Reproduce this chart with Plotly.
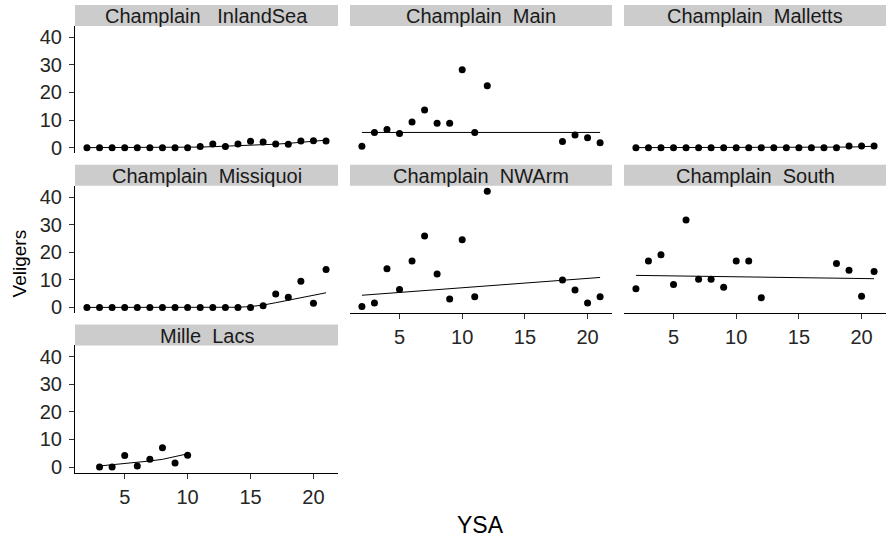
import plotly.graph_objects as go

W, H = 886, 548

# ---------------- data ----------------
panel_names = ["Champlain\u00a0\u00a0\u00a0InlandSea", "Champlain\u00a0\u00a0Main", "Champlain\u00a0\u00a0Malletts",
               "Champlain\u00a0\u00a0Missiquoi", "Champlain\u00a0\u00a0NWArm", "Champlain\u00a0\u00a0South",
               "Mille\u00a0\u00a0Lacs"]

ysa_all = [2, 3, 4, 5, 6, 7, 8, 9, 10, 11, 12, 13, 14, 15, 16, 17, 18, 19, 20, 21]
ysa_gap = [2, 3, 4, 5, 6, 7, 8, 9, 10, 11, 12, 18, 19, 20, 21]
ysa_mille = [3, 4, 5, 6, 7, 8, 9, 10]

inland_vel = [0, 0, 0, 0, 0, 0, 0, 0, 0, 0.4, 1.3, 0.4, 1.3, 2.3, 2.0, 1.3, 1.2, 2.4, 2.5, 2.4]
inland_fit = [0, 0, 0, 0, 0, 0, 0, 0.05, 0.1, 0.2, 0.35, 0.5, 0.65, 0.8, 1.0, 1.25, 1.55, 1.9, 2.3, 2.7]

main_vel = [0.5, 5.5, 6.6, 5.1, 9.3, 13.6, 8.8, 8.8, 28.2, 5.5, 22.4, 2.2, 4.6, 3.6, 1.8]
main_fit_x = [2, 21]
main_fit = [5.5, 5.5]

malletts_vel = [0, 0, 0, 0, 0, 0, 0, 0, 0, 0, 0, 0, 0, 0, 0, 0, 0, 0.6, 0.6, 0.6]
malletts_fit = [0, 0, 0, 0, 0, 0, 0, 0, 0, 0, 0, 0, 0, 0, 0, 0.02, 0.08, 0.2, 0.35, 0.5]

missiquoi_vel = [0, 0, 0, 0, 0, 0, 0, 0, 0, 0, 0, 0, 0, 0, 0.6, 4.9, 3.7, 9.5, 1.5, 13.7]
missiquoi_fit = [0, 0, 0, 0, 0, 0, 0, 0, 0, 0, 0, 0, 0.05, 0.3, 0.85, 1.7, 2.6, 3.5, 4.4, 5.3]

nwarm_vel = [0.3, 1.6, 14.0, 6.5, 16.8, 25.9, 12.1, 3.0, 24.5, 3.9, 42.1, 9.9, 6.3, 1.6, 3.9]
nwarm_fit_x = [2, 21]
nwarm_fit = [4.4, 10.85]

south_vel = [6.8, 16.8, 19.1, 8.3, 31.7, 10.2, 10.2, 7.3, 16.8, 16.8, 3.5, 15.9, 13.5, 4.0, 13.0]
south_fit_x = [2, 21]
south_fit = [11.6, 10.4]

mille_vel = [0, 0, 4.2, 0.4, 2.8, 7.0, 1.45, 4.3]
mille_fit = [0.4, 0.8, 1.2, 1.6, 2.2, 2.8, 3.7, 4.8]

y_ticks = [0, 10, 20, 30, 40]
x_ticks = [5, 10, 15, 20]

panels = [
    (ysa_all, inland_vel, ysa_all, inland_fit),
    (ysa_gap, main_vel, main_fit_x, main_fit),
    (ysa_all, malletts_vel, ysa_all, malletts_fit),
    (ysa_all, missiquoi_vel, ysa_all, missiquoi_fit),
    (ysa_gap, nwarm_vel, nwarm_fit_x, nwarm_fit),
    (ysa_gap, south_vel, south_fit_x, south_fit),
    (ysa_mille, mille_vel, ysa_mille, mille_fit),
]

# ---------------- layout geometry (pixels) ----------------
cols = [(75, 338), (350, 612), (624, 886)]
rows = [(26, 153.5), (185.8, 313.3), (345.5, 473)]  # plot area top/bottom
strip_h = 21
pos = [(0, 0), (0, 1), (0, 2), (1, 0), (1, 1), (1, 2), (2, 0)]
left_axes = {0, 3, 6}
bottom_axes = {4, 5, 6}

FONT = "Liberation Sans, Arial, sans-serif"
VS = 1.009  # small vertical correction


def fx(px):
    return px / W


def fy(py):
    py = 5 + (py - 5) * VS
    return 1 - py / H


fig = go.Figure()
layout = dict(
    width=W, height=H,
    margin=dict(l=0, r=0, t=0, b=0),
    paper_bgcolor="white", plot_bgcolor="white",
    showlegend=False,
    font=dict(family=FONT, color="black"),
)
shapes = []
annotations = []

for i, ((r, c), (px_, py_, fxv, fyv)) in enumerate(zip(pos, panels)):
    n = i + 1
    xa = "x" if n == 1 else f"x{n}"
    ya = "y" if n == 1 else f"y{n}"
    fig.add_trace(go.Scatter(x=fxv, y=fyv, mode="lines", xaxis=xa, yaxis=ya,
                             line=dict(color="black", width=1), hoverinfo="skip"))
    fig.add_trace(go.Scatter(x=px_, y=py_, mode="markers", xaxis=xa, yaxis=ya,
                             marker=dict(color="black", size=7)))
    x0, x1 = cols[c]
    t, b = rows[r]
    xkey = "xaxis" if n == 1 else f"xaxis{n}"
    ykey = "yaxis" if n == 1 else f"yaxis{n}"
    is_bottom = i in bottom_axes
    is_left = i in left_axes
    layout[xkey] = dict(
        domain=[fx(x0), fx(x1)], anchor=ya, range=[1.05, 21.95],
        showgrid=False, zeroline=False,
        showline=is_bottom, linecolor="black", linewidth=1,
        ticks="outside" if is_bottom else "", ticklen=5, tickcolor="#333333", tickwidth=1,
        tickvals=x_ticks, showticklabels=is_bottom, ticklabelstandoff=1,
        tickfont=dict(size=20, color="#262626", family=FONT),
    )
    layout[ykey] = dict(
        domain=[fy(b), fy(t)], anchor=xa, range=[-2.1, 44.1],
        showgrid=False, zeroline=False,
        showline=is_left, linecolor="black", linewidth=1,
        ticks="outside" if is_left else "", ticklen=5, tickcolor="#333333", tickwidth=1,
        tickvals=y_ticks, showticklabels=is_left, ticklabelstandoff=3,
        tickfont=dict(size=20, color="#262626", family=FONT),
    )
    # strip
    shapes.append(dict(type="rect", xref="paper", yref="paper",
                       x0=fx(x0), x1=fx(x1), y0=fy(t), y1=fy(t - strip_h),
                       fillcolor="#CCCCCC", line=dict(width=0), layer="below"))
    annotations.append(dict(text=panel_names[i], xref="paper", yref="paper",
                            x=fx((x0 + x1) / 2), y=fy(t - strip_h / 2 + 1),
                            xanchor="center", yanchor="middle", showarrow=False,
                            font=dict(size=20, color="#1a1a1a", family=FONT)))

annotations.append(dict(text="Veligers", xref="paper", yref="paper",
                        x=fx(19.5), y=fy(264), textangle=-90,
                        xanchor="center", yanchor="middle", showarrow=False,
                        font=dict(size=19, color="black", family=FONT)))
annotations.append(dict(text="YSA", xref="paper", yref="paper",
                        x=fx(480.5), y=fy(525),
                        xanchor="center", yanchor="middle", showarrow=False,
                        font=dict(size=23, color="black", family=FONT)))

layout["shapes"] = shapes
layout["annotations"] = annotations
fig.update_layout(**layout)
fig.write_html("out.html", config={"displayModeBar": False},
               post_script="document.body.style.margin='0';")
